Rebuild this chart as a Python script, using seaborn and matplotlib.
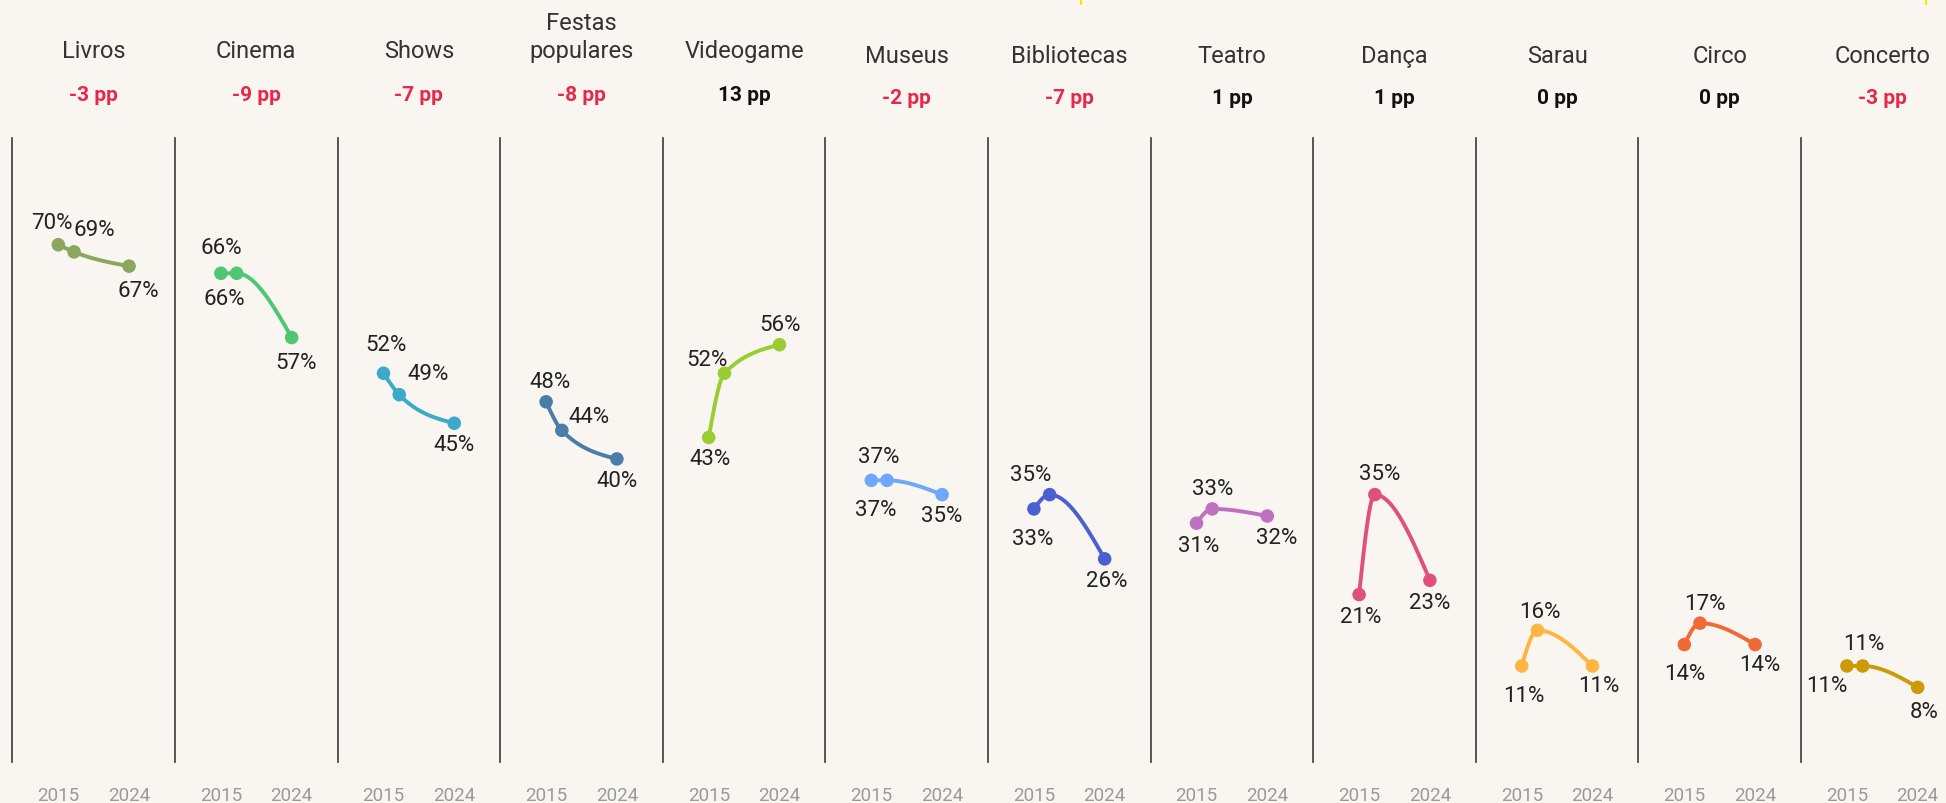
import numpy as np
import pandas as pd
import seaborn as sns
import matplotlib.pyplot as plt
from matplotlib.lines import Line2D

# Share of people who did each activity (%), three survey rounds
categories = ['Livros', 'Cinema', 'Shows', 'Festas\npopulares', 'Videogame', 'Museus',
              'Bibliotecas', 'Teatro', 'Dança', 'Sarau', 'Circo', 'Concerto']
years = [2015, 2017, 2024]
v2015 = [70, 66, 52, 48, 43, 37, 33, 31, 21, 11, 14, 11]
v2017 = [69, 66, 49, 44, 52, 37, 35, 33, 35, 16, 17, 11]
v2024 = [67, 57, 45, 40, 56, 35, 26, 32, 23, 11, 14, 8]
change_pp = [-3, -9, -7, -8, 13, -2, -7, 1, 1, 0, 0, -3]
tick_years = [2015, 2024]

colors = ['#8ba65e', '#4dc772', '#3aaac8', '#4a7da8', '#9acd32', '#6ea8fa',
          '#4a5fd0', '#c070c0', '#e0507f', '#ffb53f', '#f06a35', '#cc9a06']

# value label offsets in pixels (dx, dy) for the three points of each panel
label_offsets = [
    [(-6, 22), (20, 22), (9, -24)],
    [(0, 26), (-12, -25), (4, -25)],
    [(2, 29), (29, 21), (0, -21)],
    [(4, 20), (27, 14), (0, -22)],
    [(1, -21), (-17, 14), (1, 20)],
    [(7, 24), (-11, -29), (0, -21)],
    [(-1, -30), (-19, 20), (2, -22)],
    [(2, -22), (0, 20), (9, -21)],
    [(2, -22), (5, 21), (0, -22)],
    [(2, -30), (2, 19), (6, -20)],
    [(0, -29), (5, 20), (5, -20)],
    [(-20, -20), (1, 22), (7, -24)],
]

df = pd.DataFrame({
    'categoria': np.repeat(categories, 3),
    'ano': years * len(categories),
    'valor': np.column_stack([v2015, v2017, v2024]).ravel(),
})


def monotone_x(x, y, n=60):
    # smooth monotone cubic through the points (like d3.curveMonotoneX)
    x = np.asarray(x, float)
    y = np.asarray(y, float)
    h = np.diff(x)
    s = np.diff(y) / h
    t = np.zeros_like(y)
    sgn = lambda v: -1 if v < 0 else 1
    for i in range(1, len(x) - 1):
        p = (s[i - 1] * h[i] + s[i] * h[i - 1]) / (h[i - 1] + h[i])
        t[i] = (sgn(s[i - 1]) + sgn(s[i])) * min(abs(s[i - 1]), abs(s[i]), 0.5 * abs(p))
    t[0] = (3 * s[0] - t[1]) / 2
    t[-1] = (3 * s[-1] - t[-2]) / 2
    xs, ys = [], []
    for i in range(len(x) - 1):
        u = np.linspace(0, 1, n)
        h00 = 2 * u**3 - 3 * u**2 + 1
        h10 = u**3 - 2 * u**2 + u
        h01 = -2 * u**3 + 3 * u**2
        h11 = u**3 - u**2
        xs.append(x[i] + u * h[i])
        ys.append(h00 * y[i] + h10 * h[i] * t[i] + h01 * y[i + 1] + h11 * h[i] * t[i + 1])
    return np.concatenate(xs), np.concatenate(ys)


sns.set_theme(style='white')
plt.rcParams['font.family'] = ['Roboto', 'DejaVu Sans']

W, H = 1946, 804
bg = '#f9f5f1'
fig = plt.figure(figsize=(W / 100, H / 100), dpi=100, facecolor=bg)

x0, step = 12.4, 162.6
top_px, bottom_px = 139, 763

for i, cat in enumerate(categories):
    ax = fig.add_axes([(x0 + i * step) / W, 1 - bottom_px / H, step / W, (bottom_px - top_px) / H])
    ax.set_facecolor('none')
    sub = df[df['categoria'] == cat]
    c = colors[i]

    xs, ys = monotone_x(sub['ano'], sub['valor'])
    sns.lineplot(x=xs, y=ys, ax=ax, color=c, lw=2.8, sort=False, estimator=None)
    sns.scatterplot(data=sub, x='ano', y='valor', ax=ax, color=c, s=95,
                    edgecolor='none', zorder=3, legend=False)

    for (yr, val), (dx, dy) in zip(zip(sub['ano'], sub['valor']), label_offsets[i]):
        ax.annotate(f'{val}%', (yr, val), xytext=(dx, dy), textcoords='offset pixels',
                    ha='center', va='center', fontsize=16, color='#222222',
                    annotation_clip=False)

    ax.set_xlim(2009.16, 2029.84)
    ax.set_ylim(-2.45, 84.95)
    ax.set_xticks(tick_years)
    ax.set_xticklabels([str(y) for y in tick_years], fontsize=13.5, color='#9a9a9a')
    ax.set_yticks([])
    ax.tick_params(axis='x', length=0, pad=17)
    ax.set_xlabel('')
    ax.set_ylabel('')
    for side in ['top', 'right', 'bottom']:
        ax.spines[side].set_visible(False)
    ax.spines['left'].set_color('#3a3a3a')
    ax.spines['left'].set_linewidth(1.2)

    cx = (x0 + i * step + step / 2) / W
    shift = 5 if i >= 5 else 0
    fig.text(cx, 1 - (63 + shift) / H, cat, ha='center', va='bottom', fontsize=17,
             color='#333333', linespacing=1.25)
    pp = change_pp[i]
    fig.text(cx, 1 - (101 + shift / 2) / H, f'{pp} pp', ha='center', va='baseline',
             fontsize=15, fontweight='bold', color='#e8284a' if pp < 0 else '#111111')

# small yellow marks at the top edge
for xm in [1081, 1926]:
    fig.add_artist(Line2D([xm / W, xm / W], [1, 1 - 5 / H], color='#f5e600', lw=1.5))

fig.savefig('out.png', dpi=100, facecolor=bg)
